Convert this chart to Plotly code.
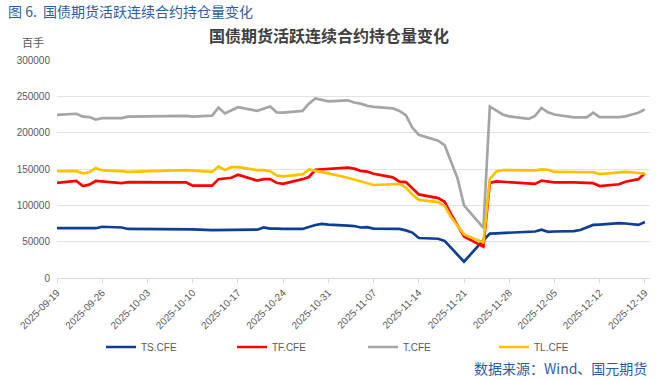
import plotly.graph_objects as go

dates = ["2025-09-19","2025-09-22","2025-09-23","2025-09-24","2025-09-25","2025-09-26","2025-09-29","2025-09-30",
         "2025-10-09","2025-10-10","2025-10-13","2025-10-14","2025-10-15","2025-10-16","2025-10-17",
         "2025-10-20","2025-10-21","2025-10-22","2025-10-23","2025-10-24","2025-10-27","2025-10-28","2025-10-29","2025-10-30","2025-10-31",
         "2025-11-03","2025-11-04","2025-11-05","2025-11-06","2025-11-07","2025-11-10","2025-11-11","2025-11-12","2025-11-13","2025-11-14",
         "2025-11-17","2025-11-18","2025-11-19","2025-11-20","2025-11-21","2025-11-24","2025-11-25","2025-11-26","2025-11-27","2025-11-28",
         "2025-12-01","2025-12-02","2025-12-03","2025-12-04","2025-12-05","2025-12-08","2025-12-09","2025-12-10","2025-12-11","2025-12-12",
         "2025-12-15","2025-12-16","2025-12-17","2025-12-18","2025-12-19"]

ts_cfe = [68.5, 68.5, 69, 68, 68.5, 70.5, 69.5, 67.5,
          67.5, 67, 66, 66, 65.5, 66, 66.5, 66.5, 69.5, 68, 68, 67.5, 67.5, 70.5, 73, 74.5, 73.5,
          72, 71.5, 69.5, 70, 68, 68, 67.5, 65.5, 62.5, 55, 54, 51, 41, 32, 22.5, 52, 61, 61.5, 62, 63,
          63.5, 64, 66.5, 63.5, 64, 64.5, 66, 70, 73, 73.5, 75.5, 75, 74, 73, 77]
tf_cfe = [131, 133.5, 126.5, 128.5, 133.5, 133, 130.5, 132,
          131.5, 127, 127, 136, 136.5, 138, 142, 134, 136, 136, 131, 129.5, 136, 139, 149, 149.5, 150,
          152, 150.5, 147.5, 146.5, 143.5, 138.5, 132.5, 132, 123, 115, 110, 105, 88, 72, 57, 43, 131, 133, 132.5, 131.5,
          130.5, 129.5, 134, 132.5, 131.5, 131.5, 131, 131, 130.5, 126.5, 129, 132.5, 134, 136, 144]
t_cfe = [224.5, 226, 222, 221.5, 218, 220, 220, 222,
         223, 222, 223.5, 234.5, 226.5, 231, 235, 230, 232.5, 236, 228, 227.5, 230, 240, 247, 245, 243,
         244.5, 241.5, 240, 237, 235.5, 233.5, 230, 224, 207, 197, 189, 183, 160, 137, 100, 69, 236, 230, 225, 222.5,
         219, 223, 234, 228, 225, 221, 221, 221, 227.5, 221.5, 221.5, 222.5, 225, 227.5, 232]
tl_cfe = [147, 147, 144, 145.5, 151.5, 148, 147, 146,
          148.5, 148, 146, 153.5, 148.5, 152.5, 152.5, 148.5, 148.5, 147, 141, 140, 142.5, 149.5, 148, 146, 144,
          138, 135.5, 133, 130.5, 128, 129, 129.5, 124.5, 115, 107.5, 104.5, 99, 84, 72, 60, 49, 136, 146.5, 148.5, 148.5,
          148, 148, 149.5, 149, 146, 146, 146, 146, 145.5, 143, 145.5, 146, 145.5, 144.5, 143.5]

series_names = ["TS.CFE", "TF.CFE", "T.CFE", "TL.CFE"]
series_values = [ts_cfe, tf_cfe, t_cfe, tl_cfe]
series_colors = ["#0E3F92", "#FF0000", "#A5A5A5", "#FFC000"]

heading = "图 6.  国债期货活跃连续合约持仓量变化"
chart_title = "国债期货活跃连续合约持仓量变化"
unit_label = "百手"
source_text = "数据来源：Wind、国元期货"

W, H = 659, 380
L, R, T, B = 57, 9, 60, 102
pw, ph = W - L - R, H - T - B

def px(x):
    return (x - L) / pw

def py(y):
    return (H - B - y) / ph

fig = go.Figure()
for name, vals, col in zip(series_names, series_values, series_colors):
    fig.add_trace(go.Scatter(
        x=dates, y=[v * 1000 for v in vals], mode="lines", name=name,
        line=dict(color=col, width=2.7), hoverinfo="skip"))

tick_font = dict(family="Liberation Sans, Arial, sans-serif", size=10, color="#595959")
fig.update_layout(
    width=W, height=H,
    margin=dict(l=L, r=R, t=T, b=B),
    paper_bgcolor="white", plot_bgcolor="white",
    showlegend=True,
    legend=dict(orientation="h", x=px(101), y=py(347), xanchor="left", yanchor="middle",
                font=dict(family="Liberation Sans, Arial, sans-serif", size=10, color="#595959"),
                entrywidth=86, entrywidthmode="pixels", itemwidth=30,
                bgcolor="rgba(0,0,0,0)", tracegroupgap=0),
    xaxis=dict(type="date", range=["2025-09-19", "2025-12-19 19:00"],
               tick0="2025-09-19", dtick=7 * 86400000, tickformat="%Y-%m-%d",
               tickangle=-45, tickfont=tick_font,
               showgrid=False, showline=True, linecolor="#D9D9D9", linewidth=1,
               ticks="outside", ticklen=4, tickcolor="#D9D9D9", zeroline=False),
    yaxis=dict(range=[0, 300000], dtick=50000, tickformat="d", tickfont=tick_font,
               showgrid=True, gridcolor="#E3E3E3", gridwidth=1,
               zeroline=False, showline=False, ticks="", ticklabelstandoff=6),
)

anns = [
    dict(text=heading, x=px(6), y=py(11), xanchor="left", yanchor="middle",
         font=dict(family="Noto Sans CJK SC", size=14, color="#2E5C9E")),
    dict(text="<b>" + chart_title + "</b>", x=px(329), y=py(35), xanchor="center", yanchor="middle",
         font=dict(family="Noto Sans CJK SC", size=16, color="#404040")),
    dict(text=unit_label, x=px(33), y=py(42), xanchor="center", yanchor="middle",
         font=dict(family="Noto Sans CJK SC", size=11, color="#595959")),
    dict(text=source_text, x=px(649), y=py(368), xanchor="right", yanchor="middle",
         font=dict(family="Noto Sans CJK SC", size=14, color="#2E5C9E")),
]
for a in anns:
    a.update(xref="paper", yref="paper", showarrow=False)
    fig.add_annotation(**a)

fig.write_html("out.html", config={"displayModeBar": False, "staticPlot": True},
               post_script="document.body.style.margin='0';document.body.style.overflow='hidden';")
